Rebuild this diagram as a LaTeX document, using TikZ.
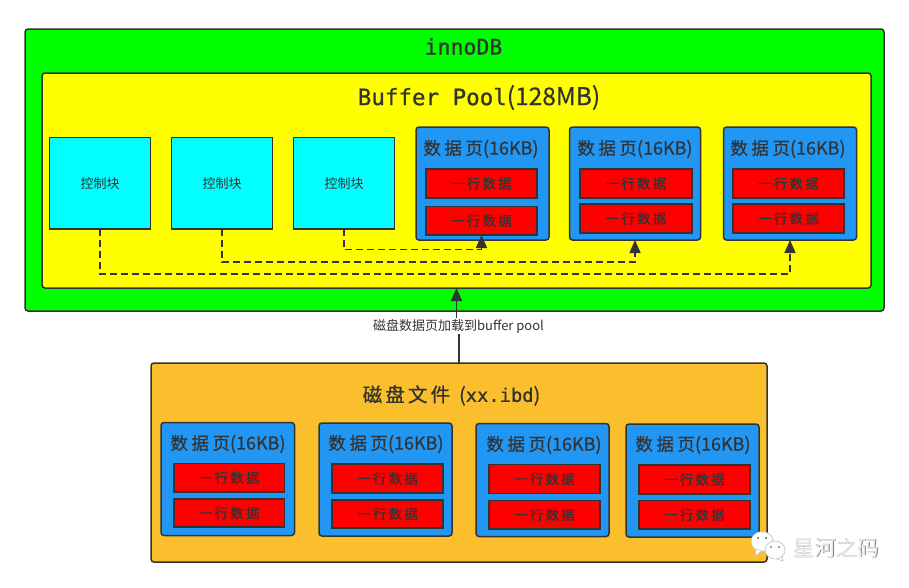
\documentclass[tikz,border=0pt]{standalone}
\usepackage{fontspec}
\usetikzlibrary{arrows.meta}
\setmainfont{Noto Sans CJK SC}
\newfontfamily\cjk{Noto Sans CJK SC}
\newfontfamily\cjkheavy[FakeBold=0.5]{Noto Sans CJK SC}
\newfontfamily\cjkwide[LetterSpace=20,FakeBold=0.5]{Noto Sans CJK SC}
\newfontfamily\cjktitle[LetterSpace=16,FakeBold=0.8]{Noto Sans CJK SC}
\newfontfamily\cjkrow[LetterSpace=16,FakeBold=0.4]{Noto Sans CJK SC}
\newfontfamily\monof[FakeBold=0.8]{DejaVu Sans Mono}
\definecolor{ink}{HTML}{333333}
\definecolor{pageblue}{HTML}{2196F3}
\definecolor{diskor}{HTML}{FBBF2D}
\definecolor{pgreen}{HTML}{00FF00}
\definecolor{pyellow}{HTML}{FFFF00}
\definecolor{pcyan}{HTML}{00FFFF}
\definecolor{pred}{HTML}{FF0000}
\newcommand\fsz[1]{\fontsize{#1}{#1}\selectfont}
\newcommand\bx[7]{% style,name,x1,y1,x2,y2,text
  \pgfmathsetmacro\bxw{#5-#3}\pgfmathsetmacro\bxh{#6-#4}
  \pgfmathsetmacro\bxx{(#3+#5)/2}\pgfmathsetmacro\bxy{(#4+#6)/2}
  \node[#1,minimum width=\bxw pt,minimum height=\bxh pt] (#2) at (\bxx,\bxy) {#7};}
\newcommand\pagetxt{{\cjkwide\fsz{17.5}数据页}{\cjkheavy\fsz{18}(16KB)}}
\newcommand\rowtxt{\raisebox{-1pt}{\cjkrow\fsz{13.5}一行数据}}
\tikzset{
  base/.style={draw=ink,line width=1.5pt,inner sep=0pt,outer sep=0pt,text=ink},
  greenbox/.style={base,fill=pgreen,rounded corners=3pt},
  yellowbox/.style={base,fill=pyellow,rounded corners=3pt},
  diskbox/.style={base,fill=diskor,rounded corners=3pt},
  ctrl/.style={base,fill=pcyan},
  pagebox/.style={base,fill=pageblue,rounded corners=3pt},
  rowbox/.style={base,fill=pred},
  txt/.style={inner sep=0pt,text=ink},
  link/.style={draw=ink,line width=1.6pt,dash pattern=on 7pt off 4pt,-{Triangle[length=13pt,width=11pt]}},
  solidlink/.style={draw=ink,line width=1.5pt,-{Triangle[length=13pt,width=11pt]}},
}
\begin{document}
\begin{tikzpicture}[x=1pt,y=-1pt]
\useasboundingbox (0,0) rectangle (909,587);
\fill[white] (0,0) rectangle (909,587);
\bx{greenbox}{inno}{25}{29}{884}{311}{}
\bx{yellowbox}{bp}{42}{73}{871}{288}{}
\node[txt] (innot) at (463.5,46.5) {\monof\fsz{21.5}innoDB};
\node[txt] (bpt) at (479,97.5) {\monof\fsz{22.5}Buffer Pool{\cjkheavy\fsz{24.5}(128MB)}};
\bx{ctrl}{c1}{49.5}{137.5}{150.5}{229}{\raisebox{-1.5pt}{\cjk\fsz{13}控制块}}
\bx{ctrl}{c2}{171.5}{137.5}{272.5}{229}{\raisebox{-1.5pt}{\cjk\fsz{13}控制块}}
\bx{ctrl}{c3}{293.5}{137.5}{394.5}{229}{\raisebox{-1.5pt}{\cjk\fsz{13}控制块}}
% pool pages
\bx{pagebox}{p1}{416}{127}{549}{240}{}
\node[txt] (p1t) at (481,149) {\pagetxt};
\bx{rowbox}{p1a}{426}{169}{537}{198}{\rowtxt}
\bx{rowbox}{p1b}{426}{206.5}{537}{235}{\rowtxt}
\bx{pagebox}{p2}{569.5}{127}{700.5}{240}{}
\node[txt] (p2t) at (635,149) {\pagetxt};
\bx{rowbox}{p2a}{580}{169}{692}{198}{\rowtxt}
\bx{rowbox}{p2b}{580}{204}{692}{233}{\rowtxt}
\bx{pagebox}{p3}{723.5}{127}{856.5}{240}{}
\node[txt] (p3t) at (788,149) {\pagetxt};
\bx{rowbox}{p3a}{733}{169}{844}{198}{\rowtxt}
\bx{rowbox}{p3b}{733}{204}{844}{233}{\rowtxt}
% dashed connectors
\draw[link] (c3.south) -- ++(0,20.6) -| (p1b.south);
\draw[link] (c2.south) -- ++(0,33) -| (p2.south);
\draw[link] (c1.south) -- ++(0,45) -| (p3.south);
% disk
\bx{diskbox}{disk}{151}{363}{767}{562}{}
\node[txt] (diskt) at (451.5,395.5) {{\cjktitle\fsz{19.5}磁盘文件}\hspace{9pt}{\cjkheavy\fsz{19.5}(}{\monof\fsz{18.8}xx.ibd}{\cjkheavy\fsz{19.5})}};
\bx{pagebox}{d1}{161}{422.5}{294.5}{535.5}{}
\node[txt] (d1t) at (228,444) {\pagetxt};
\bx{rowbox}{d1a}{174}{463.5}{284.5}{492}{\rowtxt}
\bx{rowbox}{d1b}{174}{499}{284.5}{527}{\rowtxt}
\bx{pagebox}{d2}{319}{423}{452}{536}{}
\node[txt] (d2t) at (386,444) {\pagetxt};
\bx{rowbox}{d2a}{332}{464}{443}{493}{\rowtxt}
\bx{rowbox}{d2b}{332}{500}{443}{528}{\rowtxt}
\bx{pagebox}{d3}{476}{423.5}{609}{536.5}{}
\node[txt] (d3t) at (544,445) {\pagetxt};
\bx{rowbox}{d3a}{489}{464.5}{600}{493.5}{\rowtxt}
\bx{rowbox}{d3b}{489}{500.5}{600}{529}{\rowtxt}
\bx{pagebox}{d4}{626}{424}{759}{537}{}
\node[txt] (d4t) at (693,445) {\pagetxt};
\bx{rowbox}{d4a}{639}{465}{750}{494}{\rowtxt}
\bx{rowbox}{d4b}{639}{500.5}{750}{529}{\rowtxt}
% main connector
\coordinate (lc) at (459,326);
\draw[solidlink] (disk.north) -- (disk.north |- lc) -- (bp.south |- lc) -- (bp.south);
\node[fill=white,inner sep=1pt,text=ink] (lbl) at (458.5,326) {\cjk\fsz{13}磁盘数据页加载到buffer pool};
% watermark
\begin{scope}[draw=black!25,line width=.6pt,fill=white]
\filldraw (762,541.5) ellipse[x radius=11,y radius=10];
\filldraw (756,549) -- (755,556) -- (762,551) -- cycle;
\filldraw (782,555) -- (783,561) -- (776,558.5) -- cycle;
\filldraw (775,550) ellipse[x radius=10,y radius=9];
\end{scope}
\fill[black!70] (758,538) circle(1) (766,538) circle(1) (771,547) circle(.8) (779,547) circle(.8);
\node[txt,text=black!50] (wms) at (836.6,548.6) {\cjk\fsz{21.5}星河之码};
\node[txt,text=white!92!black] (wm) at (836,548) {\cjk\fsz{21.5}星河之码};
\end{tikzpicture}
\end{document}
